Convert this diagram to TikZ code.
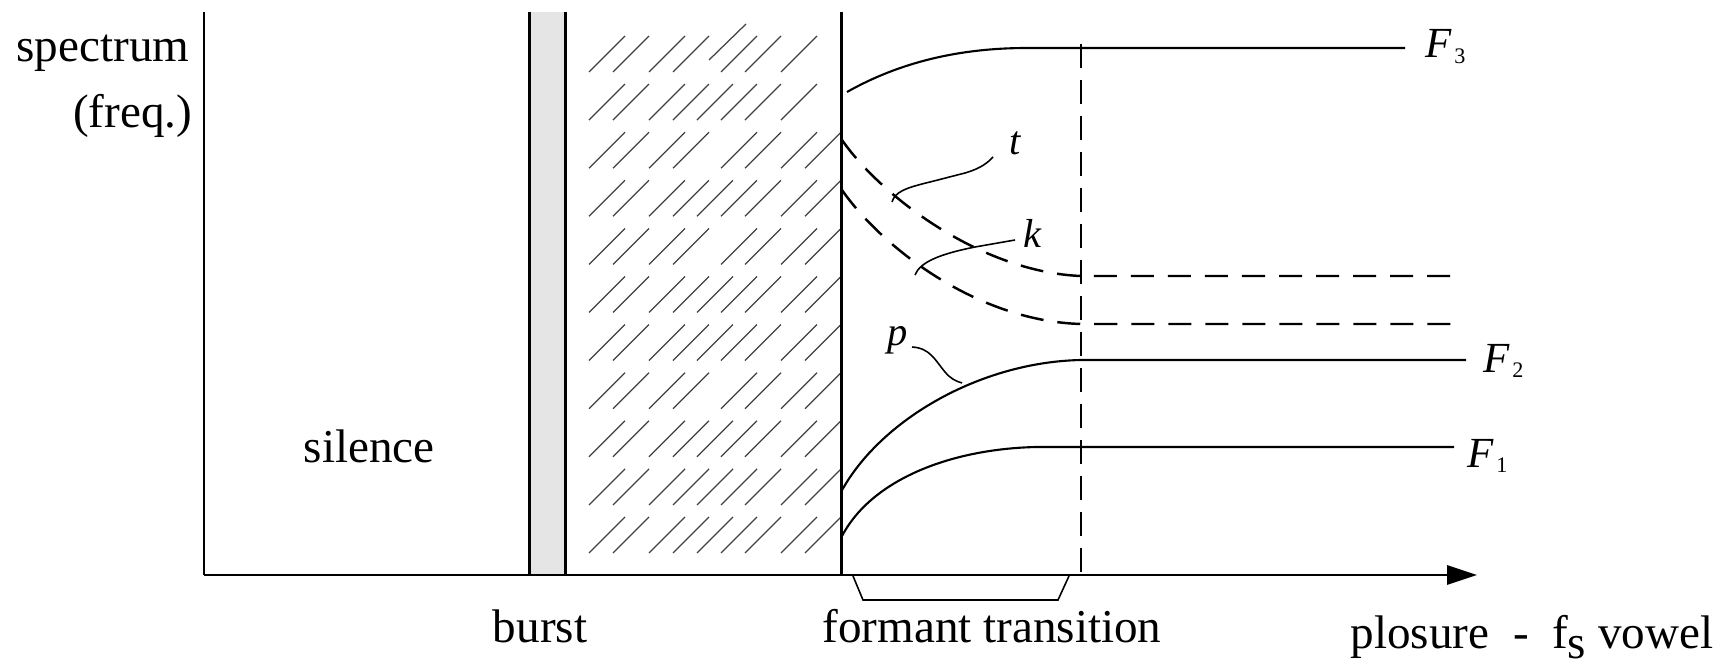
\documentclass[tikz,border=0pt]{standalone}
\usepackage{fontspec}
\setmainfont{Liberation Serif}
\usetikzlibrary{arrows.meta}
\begin{document}
\begin{tikzpicture}[x=0.01cm,y=-0.01cm,
  thickline/.style={line width=0.85pt},
  curve/.style={line width=0.6pt},
  dashline/.style={line width=0.7pt, dash pattern=on 0.23cm off 0.14cm},
  vdash/.style={line width=0.8pt, dash pattern=on 0.24cm off 0.12cm},
  hatch/.style={line width=0.35pt, black!75},
  leader/.style={line width=0.45pt},
  txt/.style={inner sep=0pt, font=\fontsize{13.4}{16}\selectfont},
  lbl/.style={inner sep=0pt, font=\fontsize{11.5}{14}\selectfont\itshape},
  flbl/.style={inner sep=0pt, font=\fontsize{12.2}{14}\selectfont}]
\useasboundingbox (0,0) rectangle (1730,664);

% burst band
\fill[gray!20] (529,12) rectangle (565,575);

% hatching
\foreach \r/\cols in {0/{589,613,649,673,721,745,781},
                      1/{589,613,649,673,697,721,745,781},
                      2/{589,613,649,673,721,745,781,805},
                      3/{589,613,649,673,697,721,745,781,805},
                      4/{589,613,649,673,721,745,781,805},
                      5/{589,613,649,673,697,721,745,781,805},
                      6/{589,613,649,673,697,721,745,781,805},
                      7/{589,613,649,673,721,745,781,805},
                      8/{589,613,649,673,697,721,745,781,805},
                      9/{589,613,649,673,697,721,745,781,805},
                      10/{589,613,649,673,697,721,745,781,805}}{
  \foreach \c in \cols {
    \draw[hatch] (\c,{72+48.1*\r}) -- ++(36,-36);
  }
}
\draw[hatch] (709,60) -- (746,24);

% frame lines
\draw[thickline] (204,12) -- (204,575);
\draw[thickline] (529,12) -- (529,575);
\draw[thickline] (565,12) -- (565,575);
\draw[thickline] (841,12) -- (841,575);
\draw[thickline, -{Triangle[length=0.3cm,width=0.19cm]}] (204,575) -- (1477,575);

% vertical dashed
\draw[vdash] (1081,44) -- (1081,575);

% formants
\draw[curve] (847,92) .. controls (900,62) and (960,48) .. (1027,48) -- (1405,48);
\draw[curve] (841,492) .. controls (880,420) and (980,362) .. (1081,360) -- (1466,360);
\draw[curve] (841,538) .. controls (870,480) and (950,449) .. (1036,447) -- (1454,447);
\draw[dashline] (842,140) .. controls (880,195) and (980,272) .. (1081,276) -- (1462,276);
\draw[dashline] (842,190) .. controls (880,245) and (975,321) .. (1081,324) -- (1462,324);

% bracket
\draw[leader] (853,576) -- (863,600) -- (1058,600) -- (1069,576);

% texts
\node[txt, anchor=base east] (spec) at (190,62) {spectrum};
\node[txt, anchor=base east] (freq) at (193,128) {(freq.)};
\node[txt, anchor=base west] (sil) at (303,462) {silence};
\node[txt, anchor=base] (burst) at (540,642) {burst};
\node[txt, anchor=base] (ft) at (992,642) {formant transition};
\node[txt, anchor=base west] (plos) at (1350,648) {plosure\ \ -\ \ f\raisebox{-0.1cm}{s} vowel};

\node[flbl, anchor=base west] (F3) at (1425,58) {\textit{F}\hspace{0.02cm}\raisebox{-0.05cm}{\fontsize{6.3}{7}\selectfont 3}};
\node[flbl, anchor=base west] (F2) at (1483,372) {\textit{F}\hspace{0.02cm}\raisebox{-0.05cm}{\fontsize{6.3}{7}\selectfont 2}};
\node[flbl, anchor=base west] (F1) at (1467,467) {\textit{F}\hspace{0.02cm}\raisebox{-0.05cm}{\fontsize{6.3}{7}\selectfont 1}};

\node[lbl, anchor=base] (t) at (1015,155) {t};
\node[lbl, anchor=base] (k) at (1032,248) {k};
\node[lbl, anchor=base] (p) at (898,345) {p};

% leaders
\coordinate (tA) at (993,157);
\coordinate (tB) at (892,202);
\coordinate (kA) at (1015,240);
\coordinate (kB) at (915,275);
\coordinate (pA) at (912,347);
\coordinate (pB) at (962,383);
\draw[leader] (tA) .. controls (985,166) and (975,170) .. (965,173) -- (930,182) .. controls (905,188) and (895,192) .. (tB);
\draw[leader] (kA) -- (975,247) .. controls (940,254) and (920,262) .. (kB);
\draw[leader] (pA) .. controls (930,348) and (935,360) .. (945,372) .. controls (950,378) and (955,381) .. (pB);
\end{tikzpicture}
\end{document}
